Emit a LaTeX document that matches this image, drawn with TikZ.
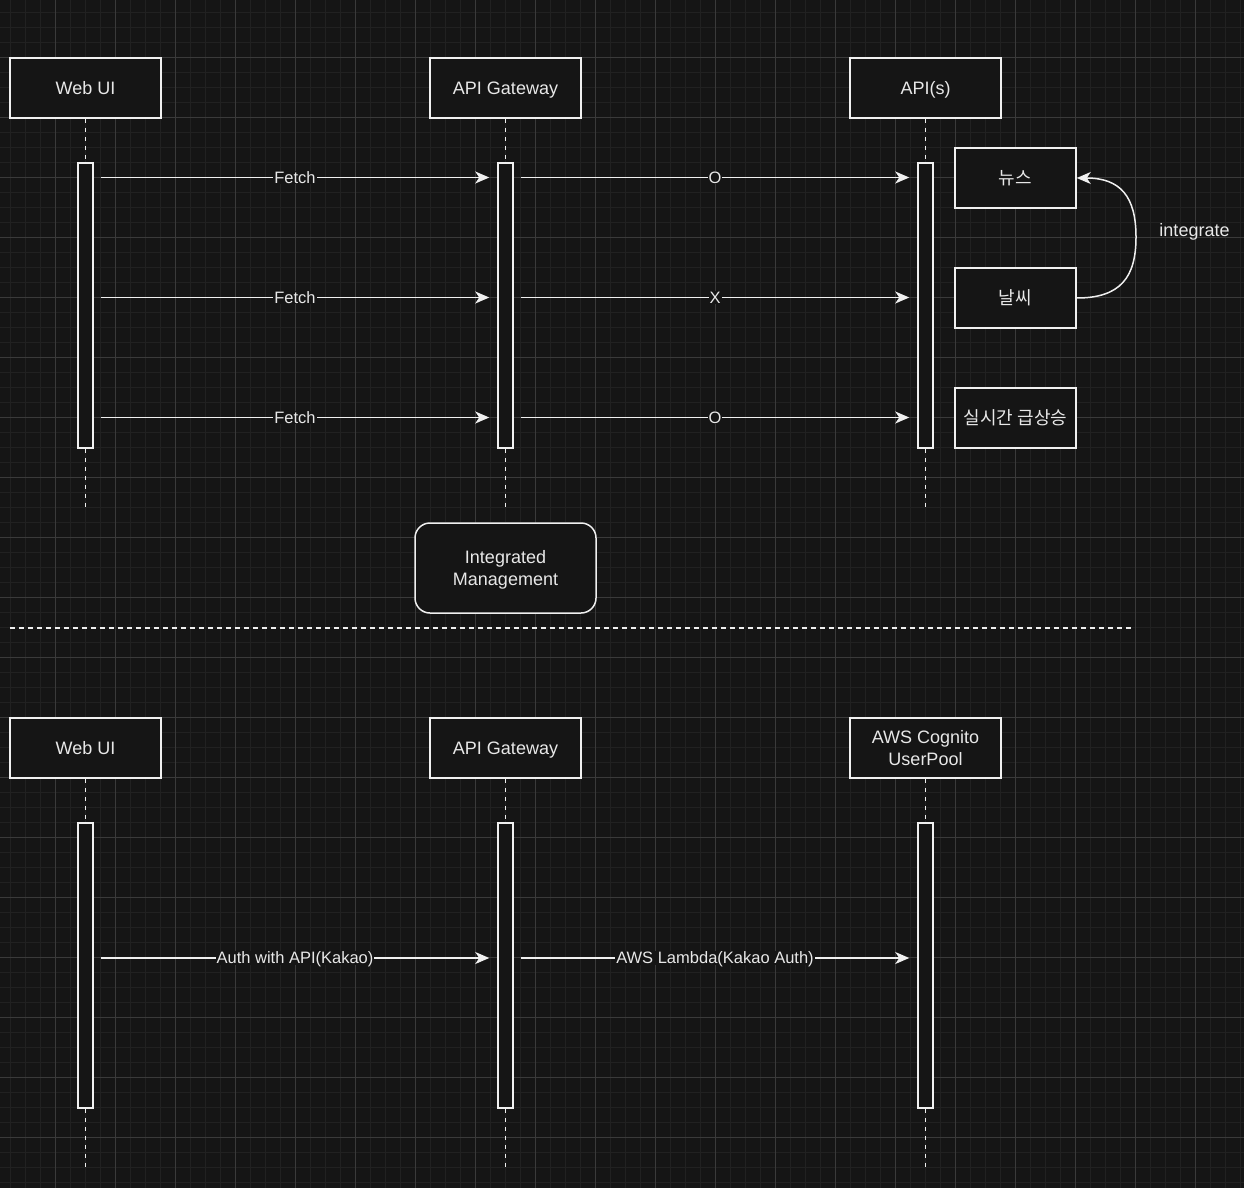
\documentclass[tikz,border=0pt]{standalone}
\usepackage{fontspec}
\setmainfont{Liberation Sans}
\newfontfamily\krfont{Noto Sans CJK KR}
\usetikzlibrary{arrows.meta}
\definecolor{bg}{HTML}{151515}
\definecolor{gminor}{HTML}{212121}
\definecolor{gmajor}{HTML}{3A3A3A}
\definecolor{fg}{HTML}{F0F0F0}
\definecolor{txt}{HTML}{E8E8E8}
\tikzset{
  actor/.style={draw=fg, line width=1.5pt, fill=bg, minimum width=151pt, minimum height=60pt,
    text=txt, font=\fontsize{18}{22}\selectfont, align=center, inner sep=0pt},
  oneline/.style={text height=12.9pt, text depth=0pt},
  item/.style={actor, minimum width=121pt, font=\krfont\fontsize{18}{22}\selectfont},
  actbar/.style={draw=fg, line width=1.5pt, fill=bg, minimum width=15pt, minimum height=285pt, inner sep=0pt},
  life/.style={draw=fg, line width=1.5pt, dash pattern=on 4pt off 5pt},
  msg/.style={draw=fg, line width=1.5pt, -{Stealth[length=14pt,width=12pt,inset=4pt]}},
  lbl/.style={fill=bg, text=txt, font=\fontsize{16.5}{20}\selectfont, inner sep=1pt,
    text height=11.8pt, text depth=0pt},
  plain/.style={text=txt, font=\fontsize{18}{22}\selectfont, inner sep=0pt, oneline}
}
\begin{document}
\begin{tikzpicture}[x=1pt,y=-1pt]
\useasboundingbox (0,0) rectangle (1244,1188);
\fill[bg] (0,0) rectangle (1244,1188);
% grid
\foreach \x in {10,25,...,1240} \draw[gminor, line width=1pt] (\x,0) -- (\x,1188);
\foreach \y in {12.5,27.5,...,1187.5} \draw[gminor, line width=1pt] (0,\y) -- (1244,\y);
\foreach \x in {55,115,...,1195} \draw[gmajor, line width=1pt] (\x,0) -- (\x,1188);
\foreach \y in {57.5,117.5,...,1137.5} \draw[gmajor, line width=1pt] (0,\y) -- (1244,\y);

% ===== top section =====
\node[actor, oneline] (wa) at (85.5,88) {Web UI};
\node[actor, oneline] (ga) at (505.5,88) {API Gateway};
\node[actor, oneline] (pa) at (925.5,88) {API(s)};
\node[actbar] (wab) at (85.5,305.5) {};
\node[actbar] (gab) at (505.5,305.5) {};
\node[actbar] (pab) at (925.5,305.5) {};
\coordinate (wae) at (85.5,508);
\coordinate (gae) at (505.5,508);
\coordinate (pae) at (925.5,508);
\foreach \a/\b/\e in {wa/wab/wae, ga/gab/gae, pa/pab/pae}{
  \draw[life] (\a.south) -- (\b.north);
  \draw[life] (\b.south) -- (\e);
}
\node[item] (news) at (1015.5,178) {뉴스};
\node[item] (wthr) at (1015.5,298) {날씨};
\node[item] (rt) at (1015.5,418) {실시간 급상승};

\coordinate (r1) at (0,177.5);
\coordinate (r2) at (0,297.5);
\coordinate (r3) at (0,417.5);
\foreach \r/\m in {r1/O, r2/X, r3/O}{
  \draw[msg] ([xshift=7pt]wab.east |- \r) -- ([xshift=-8pt]gab.west |- \r) node[lbl, midway] {Fetch};
  \draw[msg] ([xshift=7pt]gab.east |- \r) -- ([xshift=-8pt]pab.west |- \r) node[lbl, midway] {\m};
}
\coordinate (cmid) at (1136,237);
\draw[msg] (wthr.east) .. controls +(44,0) and +(0,40) .. (cmid)
  .. controls +(0,-40) and +(44,0) .. (news.east);
\node[plain] (integ) at (1194.5,230) {integrate};

\node[actor, minimum width=181pt, minimum height=90pt, rounded corners=15pt] (im) at (505.5,568) {\raisebox{0pt}{}};
\node[text=txt, font=\fontsize{18}{22}\selectfont, align=center, inner sep=0pt] (imt) at (505.5,570) {Integrated\\Management};

\coordinate (sepL) at (10,628);
\coordinate (sepR) at (1131,628);
\draw[fg, line width=1.5pt, dash pattern=on 4.5pt off 4.5pt] (sepL) -- (sepR);

% ===== bottom section =====
\node[actor, oneline] (wb) at (85.5,748) {Web UI};
\node[actor, oneline] (gb) at (505.5,748) {API Gateway};
\node[actor] (cb) at (925.5,748) {AWS Cognito\\UserPool};
\node[actbar] (wbb) at (85.5,965.5) {};
\node[actbar] (gbb) at (505.5,965.5) {};
\node[actbar] (cbb) at (925.5,965.5) {};
\coordinate (wbe) at (85.5,1168);
\coordinate (gbe) at (505.5,1168);
\coordinate (cbe) at (925.5,1168);
\foreach \a/\b/\e in {wb/wbb/wbe, gb/gbb/gbe, cb/cbb/cbe}{
  \draw[life] (\a.south) -- (\b.north);
  \draw[life] (\b.south) -- (\e);
}
\coordinate (r4) at (0,958);
\draw[msg] ([xshift=7pt]wbb.east |- r4) -- ([xshift=-8pt]gbb.west |- r4) node[lbl, midway] {Auth with API(Kakao)};
\draw[msg] ([xshift=7pt]gbb.east |- r4) -- ([xshift=-8pt]cbb.west |- r4) node[lbl, midway] {AWS Lambda(Kakao Auth)};
\end{tikzpicture}
\end{document}
